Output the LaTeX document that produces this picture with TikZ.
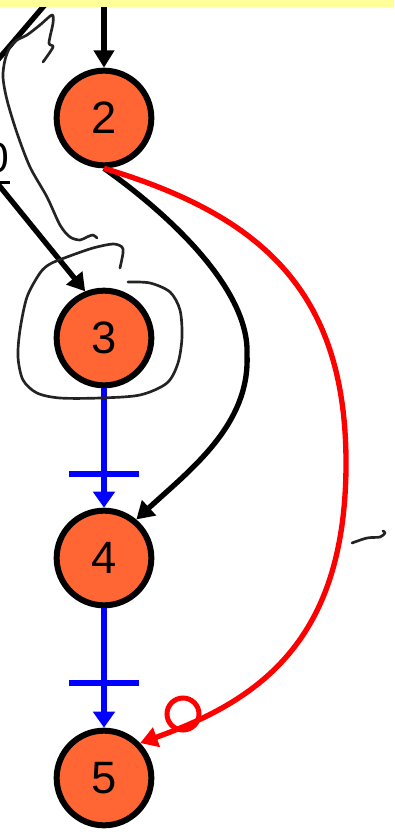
\documentclass[tikz,border=0pt]{standalone}
\usepackage{fontspec}
\setmainfont{Liberation Sans}
\usepackage{tikz}
\usetikzlibrary{arrows.meta}

\definecolor{vtxorange}{RGB}{255,102,51}
\definecolor{bandyellow}{RGB}{255,255,153}
\definecolor{inkgrey}{RGB}{35,35,35}

\begin{document}
\begin{tikzpicture}[x=0.75pt,y=0.75pt,yscale=-1,xscale=1,
    vtx/.style={circle,draw=black,line width=4.5pt,fill=vtxorange,minimum size=71pt,inner sep=0pt,font=\fontsize{34}{40}\selectfont},
    blackflow/.style={draw=black,line width=4pt,-{Triangle[length=13pt,width=15pt]}},
    blueflow/.style={draw=blue,line width=4.25pt,-{Triangle[length=12pt,width=16pt]}},
    redflow/.style={draw=red,line width=4pt,-{Triangle[length=13pt,width=15pt]}},
    barmark/.style={inner sep=0pt,minimum width=48pt,minimum height=0pt},
    bluebar/.style={draw=blue,line width=4.25pt},
    scribble/.style={draw=inkgrey,line width=2pt,line cap=round,line join=round}]
    \useasboundingbox (0,0) rectangle (394,836);
    \clip (0,0) rectangle (394,836);

    % Nodes
    \node [vtx] (n2) at (104,118) {2};
    \node [vtx] (n3) at (104,338) {3};
    \node [vtx] (n4) at (104,558) {4};
    \node [vtx] (n5) at (104,778) {5};

    % Text Node (cut at the left edge)
    \node [anchor=base east,inner sep=0pt,font=\fontsize{32}{38}\selectfont] (num0) at (9,172) {0};
    \coordinate (ulend) at (10,182);
    \draw [line width=2.25pt] (num0.west |- ulend) -- (ulend);

    % free ends off the left and top edges
    \coordinate (topin) at (104,0);
    \coordinate (leftin) at (-20,162);
    \coordinate (cuta) at (49,0);
    \coordinate (cutb) at (-10,69);

    %Straight Lines
    \draw [blackflow] (topin) -- (n2.north);
    \draw [line width=4pt] (cuta) -- (cutb);
    \draw [blackflow] (leftin) -- (n3.112);

    %Curve Lines
    \coordinate (smid) at (247,355);
    \draw [blackflow] (n2.south) .. controls (170,215) and (250,290) .. (smid) .. controls (250,425) and (190,470) .. (n4.50);
    \coordinate (rmid) at (346,460);
    \draw [redflow] (n2.south) .. controls (260,215) and (345,290) .. (rmid) .. controls (347,640) and (260,700) .. (n5.44);
    \node [circle,draw=red,line width=3.75pt,minimum size=24pt,inner sep=0pt] (ring) at (183,714) {};

    % Straight Lines with bars
    \draw [blueflow] (n3) -- node [barmark,pos=0.72] (bar34) {} (n4);
    \draw [bluebar] (bar34.west) -- (bar34.east);
    \draw [blueflow] (n4) -- node [barmark,pos=0.625] (bar45) {} (n5);
    \draw [bluebar] (bar45.west) -- (bar45.east);

    % hand strokes
    \draw [scribble] plot [smooth] coordinates {(43,62) (53,47) (49,43) (53,23) (52,15) (40,25) (27,35) (17,40) (10,47) (5,60) (3,77) (7,100) (17,133) (30,167) (47,197) (60,225) (70,237) (80,240) (87,237) (93,235) (97,238)};
    \draw [scribble] plot [smooth] coordinates {(128,282) (150,283) (170,292) (180,310) (182,337) (178,363) (167,383) (140,395) (100,398) (60,398) (37,393) (23,380) (18,357) (20,330) (27,297) (40,273) (50,264) (67,257) (93,248) (113,244) (122,247) (123,253) (120,268)};
    \draw [scribble] plot [smooth] coordinates {(352,543) (367,538) (380,537) (385,533) (383,531)};

    % top band
    \fill [bandyellow] (0,0) rectangle (394,7);
\end{tikzpicture}
\end{document}
